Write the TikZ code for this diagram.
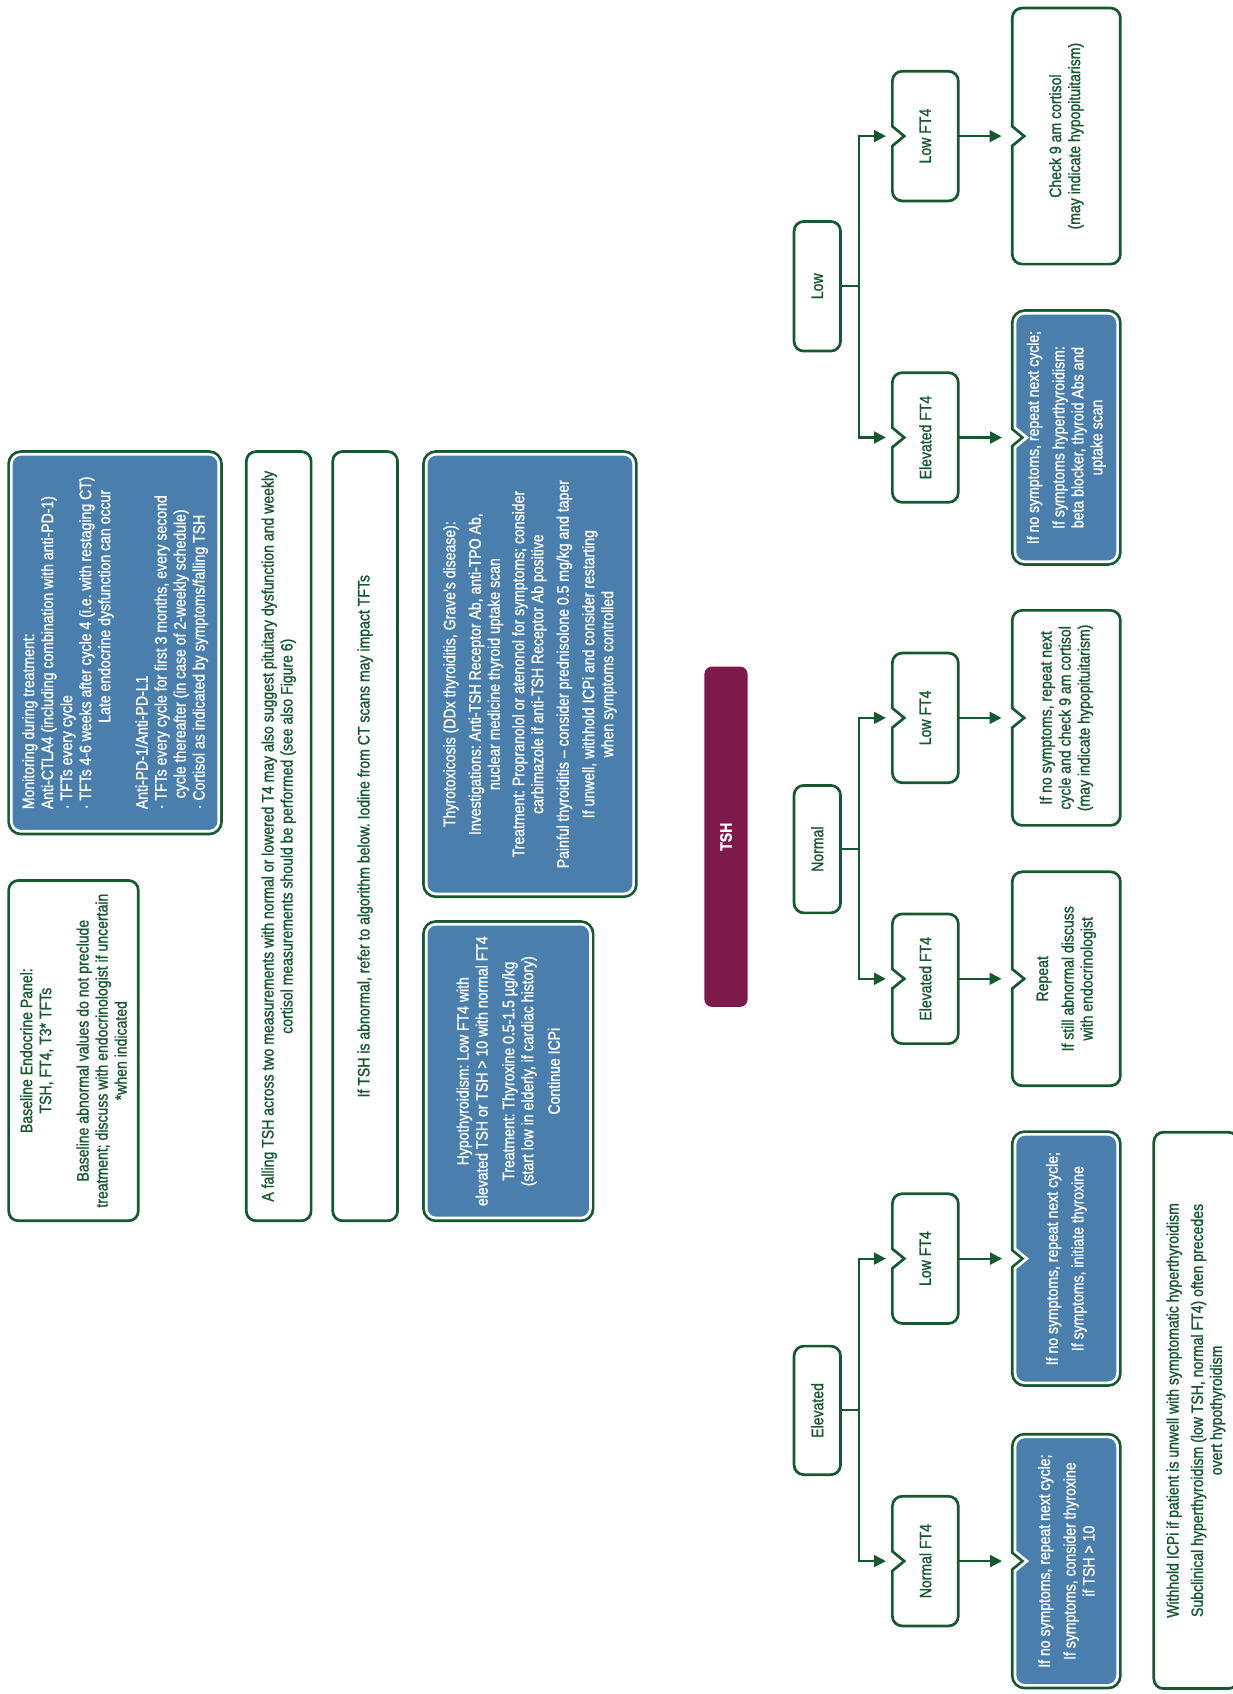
\documentclass[tikz,border=0pt]{standalone}
\usepackage{fontspec}
\setmainfont{Liberation Sans}[FakeStretch=0.85,FakeBold=1.2]
\usetikzlibrary{arrows.meta,calc}
\pgfdeclarelayer{bg}
\pgfsetlayers{bg,main}
\definecolor{dg}{RGB}{22,88,48}
\definecolor{bl}{RGB}{74,126,172}
\definecolor{pu}{RGB}{126,25,76}
\newcommand\fs{\fontsize{15.3}{17.6}\selectfont\frenchspacing}
\newcommand\nborder[1]{($(#1.north)+(-9,0)$) -- ($(#1.north west)+(9,0)$) arc[start angle=90,end angle=180,radius=9] -- ($(#1.south west)+(0,9)$) arc[start angle=180,end angle=270,radius=9] -- ($(#1.south east)+(-9,0)$) arc[start angle=270,end angle=360,radius=9] -- ($(#1.north east)+(0,-9)$) arc[start angle=0,end angle=90,radius=9] -- ($(#1.north)+(9,0)$) -- ($(#1.north)+(0,-11)$) -- cycle}
\tikzset{
  txt/.style={font=\fs, text=dg, align=center, inner sep=0pt, outer sep=0pt, rectangle},
  wbox/.style={txt, draw=dg, line width=2.5pt, rounded corners=9pt, fill=white},
  bbox/.style={txt, text=white, fill=bl, draw=white, line width=2.5pt, rounded corners=9pt, preaction={draw=dg, line width=7.5pt}},
  ntxt/.style={txt},
  nbtxt/.style={txt, text=white},
  nwhite/.style={fill=white, draw=dg, line width=2.5pt},
  nblue/.style={preaction={draw=dg, line width=7.5pt}, fill=bl, draw=white, line width=2.5pt},
  conn/.style={draw=dg, line width=2pt},
  arr/.style={conn, -{Triangle[length=11pt,width=11pt]}},
  tshbar/.style={txt, fill=pu, text=white, rounded corners=7pt, font=\fs\bfseries}
}
\begin{document}
\begin{tikzpicture}[x=1pt,y=1pt,rotate=90,transform shape]
\useasboundingbox (0,-1141) rectangle (1568,0);
\begin{pgfonlayer}{bg}
\fill[white] (0,-1141) rectangle (1568,0);
\end{pgfonlayer}

% left column
\node[wbox, minimum width=315, minimum height=120] (base) at (595.5,-68)
  {Baseline Endocrine Panel:\\ TSH, FT4, T3* TFTs\\[17pt] Baseline abnormal values do not preclude\\ treatment; discuss with endocrinologist if uncertain\\ *when indicated};
\node[bbox, align=left, minimum width=349, minimum height=192] (mon) at (973,-106.5)
  {Monitoring during treatment:\\ Anti-CTLA4 (including combination with anti-PD-1)\\ · TFTs every cycle\\ · TFTs 4-6 weeks after cycle 4 (i.e. with restaging CT)\\ \hspace*{80pt}Late endocrine dysfunction can occur\\[17pt] Anti-PD-1/Anti-PD-L1\\ · TFTs every cycle for first 3 months, every second\\ \hspace*{10pt}cycle thereafter (in case of 2-weekly schedule)\\ · Cortisol as indicated by symptoms/falling TSH};
\node[wbox, minimum width=712, minimum height=60] (fall) at (794,-258)
  {A falling TSH across two measurements with normal or lowered T4 may also suggest pituitary dysfunction and weekly\\ cortisol measurements should be performed (see also Figure 6)};
\node[wbox, minimum width=712, minimum height=60] (abn) at (794,-338)
  {If TSH is abnormal, refer to algorithm below. Iodine from CT scans may impact TFTs};
\node[bbox, minimum width=272, minimum height=152] (hypo) at (576.5,-470.5)
  {Hypothyroidism: Low FT4 with\\ elevated TSH or TSH > 10 with normal FT4\\[7pt] Treatment: Thyroxine 0.5-1.5 µg/kg\\ (start low in elderly, if cardiac history)\\[7pt] Continue ICPi};
\node[bbox, minimum width=407, minimum height=192] (thyro) at (944,-490.5)
  {Thyrotoxicosis (DDx thyroiditis, Grave's disease):\\[6pt] Investigations: Anti-TSH Receptor Ab, anti-TPO Ab,\\ nuclear medicine thyroid uptake scan\\[5pt] Treatment: Propranolol or atenonol for symptoms; consider\\ carbimazole if anti-TSH Receptor Ab positive\\[6pt] Painful thyroiditis -- consider prednisolone 0.5 mg/kg and taper\\[6pt] If unwell, withhold ICPi and consider restarting\\ when symptoms controlled};

% TSH
\node[tshbar, minimum width=315, minimum height=40] (tsh) at (793.5,-672) {TSH};

% level 1
\node[wbox, minimum width=119, minimum height=43] (elev) at (262.5,-756.5) {Elevated};
\node[wbox, minimum width=118, minimum height=43] (norm) at (782,-756.5) {Normal};
\node[wbox, minimum width=120, minimum height=43] (low) at (1303,-756.5) {Low};

% FT4 level
\node[ntxt, minimum width=120, minimum height=61] (eNorm) at (123,-856.5) {Normal FT4};
\node[ntxt, minimum width=120, minimum height=61] (eLow) at (403,-856.5) {Low FT4};
\node[ntxt, minimum width=120, minimum height=61] (nElev) at (662,-856.5) {Elevated FT4};
\node[ntxt, minimum width=120, minimum height=61] (nLow) at (903.5,-856.5) {Low FT4};
\node[ntxt, minimum width=120, minimum height=61] (lElev) at (1163,-856.5) {Elevated FT4};
\node[ntxt, minimum width=120, minimum height=61] (lLow) at (1442,-856.5) {Low FT4};

% results
\node[nbtxt, minimum width=230, minimum height=95] (r1) at (123,-987)
  {If no symptoms, repeat next cycle;\\[6pt] If symptoms, consider thyroxine\\ if TSH > 10};
\node[nbtxt, minimum width=230, minimum height=95] (r2) at (403,-987)
  {If no symptoms, repeat next cycle;\\[6pt] If symptoms, initiate thyroxine};
\node[ntxt, minimum width=198, minimum height=100] (r3) at (662,-987)
  {Repeat\\[6pt] If still abnormal discuss\\ with endocrinologist};
\node[ntxt, minimum width=199, minimum height=100] (r4) at (903.5,-987)
  {If no symptoms, repeat next\\ cycle and check 9 am cortisol\\ (may indicate hypopituitarism)};
\node[nbtxt, minimum width=230, minimum height=95] (r5) at (1163,-987)
  {If no symptoms, repeat next cycle;\\[6pt] If symptoms hyperthyroidism:\\ beta blocker, thyroid Abs and\\ uptake scan};
\node[ntxt, minimum width=237, minimum height=100] (r6) at (1442,-987)
  {Check 9 am cortisol\\ (may indicate hypopituitarism)};

% footer
\node[wbox, minimum width=515, minimum height=78] (wh) at (262.5,-1107)
  {Withhold ICPi if patient is unwell with symptomatic hyperthyroidism\\[5pt] Subclinical hyperthyroidism (low TSH, normal FT4) often precedes\\ overt hypothyroidism};

% notched borders
\begin{pgfonlayer}{bg}
\foreach \n in {eNorm,eLow,nElev,nLow,lElev,lLow,r3,r4,r6}{\path[nwhite] \nborder{\n};}
\foreach \n in {r1,r2,r5}{\path[nblue] \nborder{\n};}
\end{pgfonlayer}

% connectors
\draw[conn] (elev.south) -- ++(0,-17) coordinate (ej);
\draw[arr, shorten >=6pt] (ej) -| (eNorm.north);
\draw[arr, shorten >=6pt] (ej) -| (eLow.north);
\draw[conn] (norm.south) -- ++(0,-17) coordinate (nj);
\draw[arr, shorten >=6pt] (nj) -| (nElev.north);
\draw[arr, shorten >=6pt] (nj) -| (nLow.north);
\draw[conn] (low.south) -- ++(0,-17) coordinate (lj);
\draw[arr, shorten >=6pt] (lj) -| (lElev.north);
\draw[arr, shorten >=6pt] (lj) -| (lLow.north);

\draw[arr, shorten >=12pt] (eNorm.south) -- (r1.north);
\draw[arr, shorten >=12pt] (eLow.south) -- (r2.north);
\draw[arr, shorten >=10pt] (nElev.south) -- (r3.north);
\draw[arr, shorten >=10pt] (nLow.south) -- (r4.north);
\draw[arr, shorten >=12pt] (lElev.south) -- (r5.north);
\draw[arr, shorten >=10pt] (lLow.south) -- (r6.north);
\end{tikzpicture}
\end{document}
